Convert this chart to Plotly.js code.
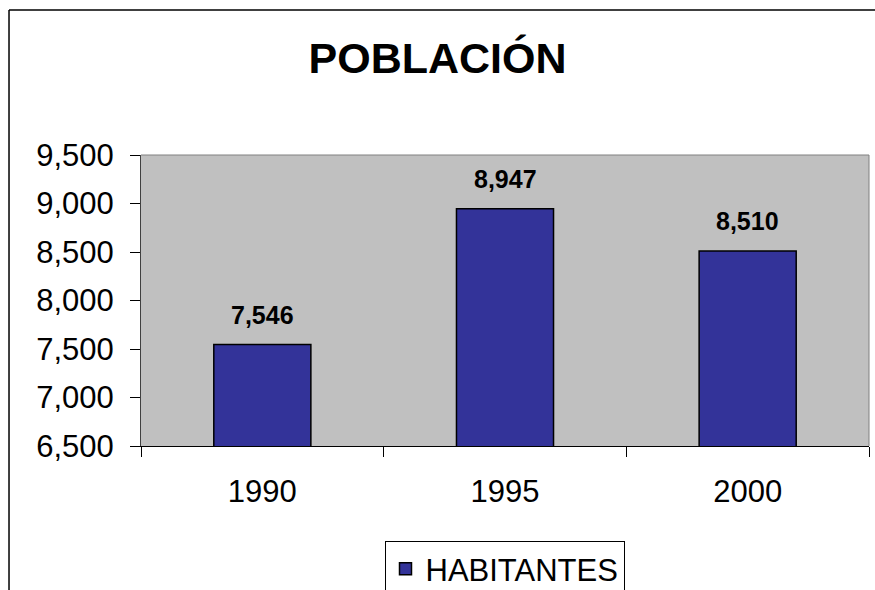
<!DOCTYPE html>
<html>
<head>
<meta charset="utf-8">
<script src="https://cdn.plot.ly/plotly-3.0.1.min.js"></script>
<style>html,body{margin:0;padding:0;background:#fff;}#chart{width:875px;height:590px;}</style>
</head>
<body>
<div id="chart"></div>
<script>
const categories = ['1990', '1995', '2000'];
const habitantes = [7546, 8947, 8510];
const seriesName = 'HABITANTES';
const yTicks = [6500, 7000, 7500, 8000, 8500, 9000, 9500];

const fmt = v => v.toLocaleString('en-US');
const FONT = 'Liberation Sans, Arial, sans-serif';

const trace = {
  type: 'bar',
  x: categories,
  y: habitantes,
  name: seriesName,
  width: 0.4,
  marker: {color: '#333399', line: {color: '#000000', width: 1.5}},
  hoverinfo: 'skip'
};

const annotations = categories.map((c, i) => ({
  x: i, y: habitantes[i], xref: 'x', yref: 'y',
  text: '<b>' + fmt(habitantes[i]) + '</b>',
  showarrow: false, yanchor: 'bottom', yshift: 14,
  font: {family: FONT, size: 25, color: '#000'}
}));

const layout = {
  width: 875, height: 590,
  margin: {l: 141, r: 6, t: 155, b: 144, autoexpand: false},
  paper_bgcolor: '#ffffff',
  plot_bgcolor: '#c0c0c0',
  font: {family: FONT, color: '#000'},
  title: {
    text: '<b>POBLACIÓN</b>',
    font: {family: FONT, size: 43, color: '#000'},
    x: 0.5, xanchor: 'center', xref: 'container',
    y: 1 - 58 / 590, yanchor: 'middle', yref: 'container'
  },
  xaxis: {
    type: 'category',
    range: [-0.5, categories.length - 0.5],
    tickson: 'boundaries',
    ticks: 'outside', ticklen: 10, tickcolor: '#000', tickwidth: 1,
    showline: true, linecolor: '#000', linewidth: 1,
    showgrid: false, zeroline: false,
    tickangle: 0,
    ticklabelstandoff: 18,
    tickfont: {family: FONT, size: 31, color: '#000'},
    fixedrange: true
  },
  yaxis: {
    range: [6500, 9500],
    tickvals: yTicks,
    ticktext: yTicks.map(fmt),
    ticks: 'outside', ticklen: 10, tickcolor: '#000', tickwidth: 1,
    showline: true, linecolor: '#404040', linewidth: 1,
    showgrid: false, zeroline: false,
    tickfont: {family: FONT, size: 31, color: '#000'},
    ticklabelstandoff: 10,
    fixedrange: true
  },
  showlegend: true,
  legend: {
    orientation: 'h',
    xref: 'container', yref: 'container',
    x: 504.5 / 875, xanchor: 'center',
    y: 1 - 541 / 590, yanchor: 'top',
    bordercolor: '#000', borderwidth: 1,
    bgcolor: '#fff',
    font: {family: FONT, size: 31, color: '#000'}
  },
  annotations: annotations,
  shapes: [
    {type: 'line', xref: 'paper', yref: 'paper', x0: 0, x1: 1, y0: 1, y1: 1, line: {color: '#808080', width: 1}},
    {type: 'line', xref: 'paper', yref: 'paper', x0: 1, x1: 1, y0: 0, y1: 1, line: {color: '#808080', width: 1}},
    {type: 'line', xref: 'paper', yref: 'paper', x0: -0.1813, x1: -0.1813, y0: -1, y1: 1.4983, line: {color: '#000', width: 1.5}},
    {type: 'line', xref: 'paper', yref: 'paper', x0: -0.1813, x1: 2, y0: 1.4983, y1: 1.4983, line: {color: '#000', width: 1.5}}
  ]
};

Plotly.newPlot('chart', [trace], layout, {displayModeBar: false, staticPlot: true});
</script>
</body>
</html>
